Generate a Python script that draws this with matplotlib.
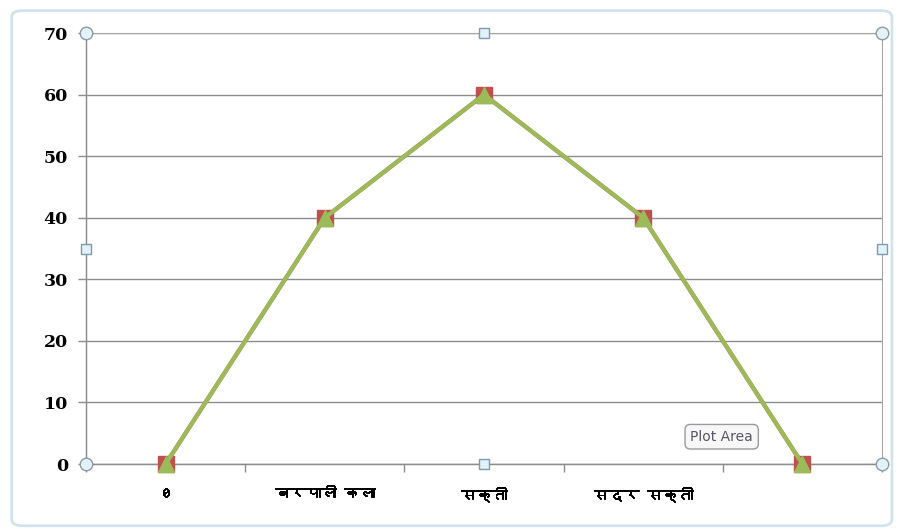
import matplotlib
matplotlib.use('Agg')
import matplotlib.pyplot as plt
import matplotlib.patheffects as pe
from matplotlib import font_manager, ft2font
from matplotlib.patches import FancyBboxPatch, Rectangle

categories = ['0', 'बरपाली कला', 'सक्ती', 'सदर सक्ती', '']
series_red = [0, 40, 60, 40, 0]
series_green = [0, 40, 60, 40, 0]
y_ticks = [0, 10, 20, 30, 40, 50, 60, 70]

# find a font that can draw Devanagari, if there is one
deva = None
for f in font_manager.fontManager.ttflist:
    try:
        if 0x0915 in ft2font.FT2Font(f.fname).get_charmap():
            deva = f.name
            break
    except Exception:
        pass
label_family = [deva, 'DejaVu Sans'] if deva else ['DejaVu Sans']

fig = plt.figure(figsize=(9, 5.3), dpi=100)
ax = fig.add_axes([0.0956, 0.1245, 0.8844, 0.8132])

x = list(range(len(categories)))
ax.plot(x, series_red, color='#C0504D', lw=3, marker='s', ms=12,
        mec='#C0504D', mfc='#C0504D', zorder=3, clip_on=False)
ax.plot(x, series_green, color='#9BBB59', lw=3, marker='^', ms=11,
        mec='#9BBB59', mfc='#9BBB59', zorder=4, clip_on=False)

ax.set_xlim(-0.5, len(categories) - 0.5)
ax.set_ylim(0, 70)
ax.set_yticks(y_ticks)
ax.set_yticklabels([str(v) for v in y_ticks], fontfamily='DejaVu Serif',
                   fontweight='bold', fontsize=12.5)
ax.yaxis.grid(True, color='#8C8C8C', lw=1)
ax.set_axisbelow(True)

# category labels centred, tick marks between categories
ax.set_xticks([i - 0.5 for i in range(len(categories) + 1)])
ax.set_xticklabels([])
ax.set_xticks(x, minor=True)
ax.set_xticklabels(categories, minor=True, fontfamily=label_family,
                   fontweight='bold', fontsize=11)
for t in ax.get_xticklabels(minor=True):
    t.set_path_effects([pe.withStroke(linewidth=0.7, foreground='black')])
ax.tick_params(axis='x', which='minor', length=0, pad=16)
ax.tick_params(axis='x', which='major', length=6, color='#8C8C8C', width=1)
ax.tick_params(axis='y', length=6, color='#8C8C8C', width=1, pad=7)

for s in ['top', 'right']:
    ax.spines[s].set_visible(False)
for s in ['left', 'bottom']:
    ax.spines[s].set_color('#8C8C8C')
    ax.spines[s].set_linewidth(1)

# plot area selection frame and handles
ax.add_patch(Rectangle((0, 0), 1, 1, transform=ax.transAxes, fill=False,
                       ec='#A6A6A6', lw=0.8, zorder=2, clip_on=False))
ax.plot([0, 1, 0, 1], [0, 0, 1, 1], transform=ax.transAxes, ls='none',
        marker='o', ms=9, mfc='#E3F1F8', mec='#8C9AA3', mew=1,
        zorder=6, clip_on=False)
ax.plot([0.5, 0.5, 0, 1], [0, 1, 0.5, 0.5], transform=ax.transAxes, ls='none',
        marker='s', ms=7, mfc='#E3F1F8', mec='#7A9CB3', mew=1,
        zorder=6, clip_on=False)

# chart border
fig.patches.append(FancyBboxPatch((0.013, 0.008), 0.978, 0.972,
                                  boxstyle='round,pad=0,rounding_size=0.012',
                                  transform=fig.transFigure, fill=False,
                                  ec='#CFE3EE', lw=2))

# tooltip
fig.text(0.767, 0.176, 'Plot Area', fontsize=10, color='#555566',
         ha='left', va='center',
         bbox=dict(boxstyle='round,pad=0.38', fc='#F7F7F7', ec='#9A9A9A', lw=1))

plt.savefig('out.png', dpi=100)
